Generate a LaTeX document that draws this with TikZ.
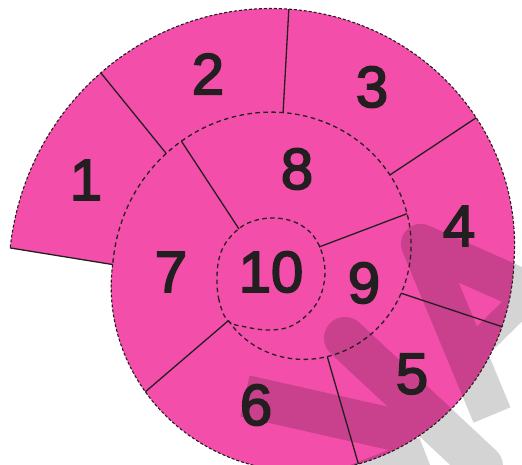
\documentclass[tikz,border=0pt]{standalone}
\usepackage{fontspec}
\newfontfamily\numfont{Liberation Sans}[FakeBold=3]
\definecolor{shellpink}{RGB}{242,78,170}
\definecolor{ink}{RGB}{35,31,32}
\begin{document}
\begin{tikzpicture}[x=1pt,y=-1pt,
  declare function={
    rs(\t)=122.5+0.28886*\t;
    ro(\t)=rs(\t)+9*max(0,sin(\t-180));
    sx(\t)=287.5+rs(\t)*cos(\t);
    sy(\t)=261.5-rs(\t)*sin(\t);
    ox(\t)=287.5+ro(\t)*cos(\t);
    oy(\t)=261.5-ro(\t)*sin(\t);
  },
  seg/.style={draw=ink, line width=1.3pt},
  middash/.style={draw=ink, line width=1.3pt, dash pattern=on 4.5pt off 3.5pt},
  outdash/.style={draw=ink, line width=1.1pt, dash pattern=on 3pt off 2pt},
  wmark/.style={draw=black, line join=round},
  num/.style={font=\numfont\fontsize{58}{58}\selectfont, text=ink, inner sep=0pt}
]
\useasboundingbox (0,0) rectangle (522,464);

% shell fill
\fill[shellpink] plot[domain=181:537.2, samples=240, variable=\t] ({ox(\t)},{oy(\t)}) -- cycle;

% watermark (faint, behind the lines)
\begin{scope}[transparency group, opacity=0.17]
  \draw[wmark, line width=40pt] (545,299) -- (421,244) -- (492,415);
  \draw[wmark, line width=28pt] (524,300) -- (478,345);
  \draw[wmark, line cap=round, line width=42pt] (345,338) -- (482,466);
  \draw[wmark, line width=42pt] (245,396) -- (418,435);
  \draw[wmark, line width=30pt] (425,452) -- (330,489);
\end{scope}

% outer boundary
\draw[outdash] plot[domain=181:537.2, samples=240, variable=\t] ({ox(\t)},{oy(\t)});
% middle spiral
\draw[middash] plot[domain=-135:181, samples=200, variable=\t] ({sx(\t)},{sy(\t)});
% inner chamber 10
\draw[middash] plot[smooth cycle, tension=0.6] coordinates {(228,321) (219,300) (217,275) (221,252) (232,235) (248,223) (270,218) (292,221) (310,232) (321,250) (325,273) (320,297) (307,315) (289,327) (268,330) (246,327)};

% key points
\coordinate (o1) at ({ox(537.2)},{oy(537.2)});
\coordinate (m1) at ({sx(181)},{sy(181)});
\coordinate (o12) at ({ox(494.7)},{oy(494.7)});
\coordinate (m12) at ({sx(138.3)},{sy(138.3)});
\coordinate (o23) at ({ox(449.7)},{oy(449.7)});
\coordinate (m23) at ({sx(91.7)},{sy(91.7)});
\coordinate (o34) at ({ox(397.3)},{oy(397.3)});
\coordinate (m34) at ({sx(40.2)},{sy(40.2)});
\coordinate (o45) at ({ox(343.1)},{oy(343.1)});
\coordinate (m45) at ({sx(-15.6)},{sy(-15.6)});
\coordinate (o56) at ({ox(289.3)},{oy(289.3)});
\coordinate (m56) at ({sx(-67.3)},{sy(-67.3)});
\coordinate (o67) at ({ox(222.5)},{oy(222.5)});
\coordinate (m67) at (228,321);
\coordinate (m78) at ({sx(131.4)},{sy(131.4)});
\coordinate (i78) at (239,229);
\coordinate (m89) at ({sx(21.8)},{sy(21.8)});
\coordinate (i89) at (319,247);

% segment walls
\draw[seg] (o1) -- (m1);
\draw[seg] (o12) -- (m12);
\draw[seg] (o23) -- (m23);
\draw[seg] (o34) -- (m34);
\draw[seg] (o45) -- (m45);
\draw[seg] (o56) -- (m56);
\draw[seg] (o67) -- (m67);
\draw[seg] (m78) -- (i78);
\draw[seg] (m89) -- (i89);

% numbers
\node[num] (n1) at (86,180) {1};
\node[num] (n2) at (208,74) {2};
\node[num] (n3) at (372,87) {3};
\node[num] (n4) at (459,226) {4};
\node[num] (n5) at (412,374) {5};
\node[num] (n6) at (256,405) {6};
\node[num] (n7) at (171,272) {7};
\node[num] (n8) at (297,169) {8};
\node[num] (n9) at (364,283) {9};
\node[num] (n10) at (271,272) {10};
\end{tikzpicture}
\end{document}
